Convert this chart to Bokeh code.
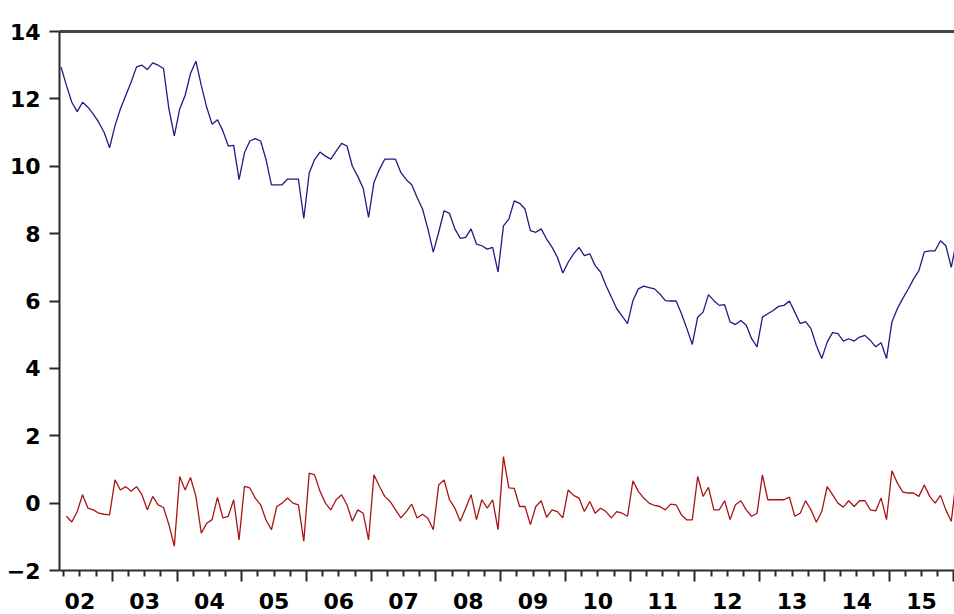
from bokeh.plotting import figure
from bokeh.models import FixedTicker, LinearAxis, Range1d, CustomLabelingPolicy
from bokeh.embed import file_html
from bokeh.resources import INLINE

# months counted from Jan 2002 (0 = 2002M01)
blue_start = 2   # 2002M03
blue = [12.95, 12.4, 11.9, 11.62, 11.9, 11.75, 11.55, 11.3, 11.0, 10.55,
        11.2, 11.7, 12.1, 12.5, 12.95, 13.0, 12.87, 13.07, 13.0, 12.9, 11.7, 10.9,
        11.7, 12.1, 12.75, 13.12, 12.4, 11.75, 11.25, 11.38, 11.05, 10.6, 10.62, 9.6,
        10.4, 10.75, 10.82, 10.75, 10.2, 9.45, 9.45, 9.45, 9.62, 9.62, 9.62, 8.45,
        9.8, 10.2, 10.42, 10.3, 10.21, 10.45, 10.68, 10.6, 10.0, 9.7, 9.35, 8.48,
        9.52, 9.9, 10.21, 10.21, 10.21, 9.81, 9.6, 9.45, 9.07, 8.73, 8.14, 7.45,
        8.04, 8.68, 8.6, 8.14, 7.86, 7.89, 8.14, 7.69, 7.64, 7.54, 7.59, 6.86,
        8.23, 8.43, 8.97, 8.9, 8.73, 8.09, 8.04, 8.14, 7.84, 7.6, 7.3, 6.83,
        7.15, 7.4, 7.59, 7.35, 7.4, 7.05, 6.86, 6.46, 6.12, 5.77, 5.55, 5.33,
        6.01, 6.36, 6.44, 6.4, 6.36, 6.21, 6.01, 6.0, 6.0, 5.62, 5.18, 4.71,
        5.52, 5.67, 6.19, 6.01, 5.87, 5.89, 5.38, 5.3, 5.42, 5.28, 4.88, 4.64,
        5.52, 5.62, 5.72, 5.84, 5.87, 6.0, 5.67, 5.33, 5.39, 5.18, 4.68, 4.29,
        4.78, 5.06, 5.03, 4.81, 4.88, 4.81, 4.93, 4.98, 4.83, 4.64, 4.76, 4.29,
        5.38, 5.77, 6.07, 6.35, 6.65, 6.9, 7.46, 7.49, 7.49, 7.79, 7.64, 7.0,
        7.8]

red_start = 3    # 2002M04
red = [-0.39, -0.56, -0.25, 0.25, -0.15, -0.2, -0.3, -0.33, -0.35,
       0.69, 0.39, 0.49, 0.35, 0.49, 0.25, -0.2, 0.2, -0.05, -0.13, -0.64, -1.28,
       0.79, 0.39, 0.76, 0.2, -0.89, -0.6, -0.49, 0.17, -0.44, -0.39, 0.1, -1.09,
       0.5, 0.45, 0.15, -0.05, -0.5, -0.79, -0.1, 0.0, 0.15, 0.0, -0.05, -1.13,
       0.89, 0.84, 0.35, 0.0, -0.2, 0.1, 0.25, -0.05, -0.54, -0.2, -0.3, -1.09,
       0.84, 0.5, 0.2, 0.05, -0.2, -0.44, -0.25, -0.03, -0.44, -0.33, -0.45, -0.79,
       0.54, 0.69, 0.1, -0.15, -0.54, -0.15, 0.25, -0.49, 0.1, -0.15, 0.1, -0.79,
       1.38, 0.45, 0.44, -0.1, -0.1, -0.64, -0.1, 0.07, -0.42, -0.2, -0.25, -0.44,
       0.39, 0.23, 0.15, -0.25, 0.05, -0.3, -0.15, -0.25, -0.44, -0.25, -0.3, -0.39,
       0.66, 0.35, 0.15, 0.0, -0.07, -0.1, -0.2, -0.03, -0.05, -0.35, -0.5, -0.5,
       0.79, 0.2, 0.47, -0.2, -0.2, 0.07, -0.49, -0.05, 0.07, -0.2, -0.39, -0.3,
       0.84, 0.1, 0.1, 0.1, 0.1, 0.18, -0.39, -0.3, 0.07, -0.2, -0.57, -0.25,
       0.49, 0.25, 0.0, -0.12, 0.07, -0.1, 0.07, 0.07, -0.2, -0.23, 0.15, -0.49,
       0.96, 0.6, 0.33, 0.3, 0.3, 0.2, 0.54, 0.2, 0.0, 0.23, -0.2, -0.54,
       0.8]

year_labels = ["02", "03", "04", "05", "06", "07", "08", "09",
               "10", "11", "12", "13", "14", "15"]
y_ticks = [-2, 0, 2, 4, 6, 8, 10, 12, 14]

xb = [blue_start + i for i in range(len(blue))]
xr = [red_start + i for i in range(len(red))]

# year boundaries (between Dec and Jan), quarter boundaries, mid-years
year_bounds = [12 * k - 0.5 for k in range(1, len(year_labels) + 1)]
quarter_ticks = [12 * k - 0.5 + 3 * q for k in range(0, len(year_labels) + 1) for q in range(1, 4)]
mid_years = [12 * k + 5.5 for k in range(len(year_labels))]

FONT = "DejaVu Sans"
FSIZE = "22px"
AX = "#2a2a2a"

no_labels = CustomLabelingPolicy(code="""
const ids = [...indices]
for (const i of ids) indices.unset(i)
return indices
""")

p = figure(width=954, height=614, output_backend="svg", toolbar_location=None,
           x_range=Range1d(1.72, 167.6), y_range=Range1d(-2, 14),
           x_axis_location=None, min_border_left=59, min_border_right=0,
           min_border_top=31, min_border_bottom=44)
p.outline_line_color = None
p.xgrid.visible = False
p.ygrid.visible = False
p.background_fill_color = "white"
p.border_fill_color = "white"

ya = p.yaxis[0]
ya.ticker = FixedTicker(ticks=y_ticks)
ya.major_tick_out = 10
ya.major_tick_in = 0
ya.minor_tick_out = 0
ya.minor_tick_in = 0
ya.axis_line_width = 2
ya.axis_line_color = AX
ya.major_tick_line_width = 2
ya.major_tick_line_color = AX
ya.major_label_standoff = 9
ya.major_label_text_font = FONT
ya.major_label_text_font_style = "bold"
ya.major_label_text_font_size = FSIZE
ya.major_label_text_color = "black"

# bottom axis: year and quarter tick marks
xa = LinearAxis(ticker=FixedTicker(ticks=year_bounds, minor_ticks=quarter_ticks),
                major_tick_out=11, major_tick_in=0, minor_tick_out=6, minor_tick_in=0,
                axis_line_width=2, axis_line_color=AX,
                major_tick_line_width=2, major_tick_line_color=AX,
                minor_tick_line_width=2, minor_tick_line_color=AX,
                major_label_policy=no_labels, major_label_standoff=0,
                major_label_text_font=FONT, major_label_text_font_size="1px")
p.add_layout(xa, "below")

# bottom labels centred in each year
xl = LinearAxis(ticker=FixedTicker(ticks=mid_years, minor_ticks=[]),
                axis_line_color=None, major_tick_line_color=None, minor_tick_line_color=None,
                major_tick_out=0, major_tick_in=0, minor_tick_out=0, minor_tick_in=0,
                major_label_overrides={m: lab for m, lab in zip(mid_years, year_labels)},
                major_label_standoff=7,
                major_label_text_font=FONT, major_label_text_font_style="bold",
                major_label_text_font_size=FSIZE, major_label_text_color="black")
p.add_layout(xl, "below")

# top frame line
top = LinearAxis(ticker=FixedTicker(ticks=[], minor_ticks=[]),
                 axis_line_width=3, axis_line_color="#444444",
                 major_tick_out=0, major_tick_in=0, minor_tick_out=0, minor_tick_in=0,
                 major_label_standoff=0)
p.add_layout(top, "above")

p.line(xb, blue, line_color="#1c1c84", line_width=1.3)
p.line(xr, red, line_color="#a81414", line_width=1.3)

open("out.html", "w").write(file_html(p, INLINE))
